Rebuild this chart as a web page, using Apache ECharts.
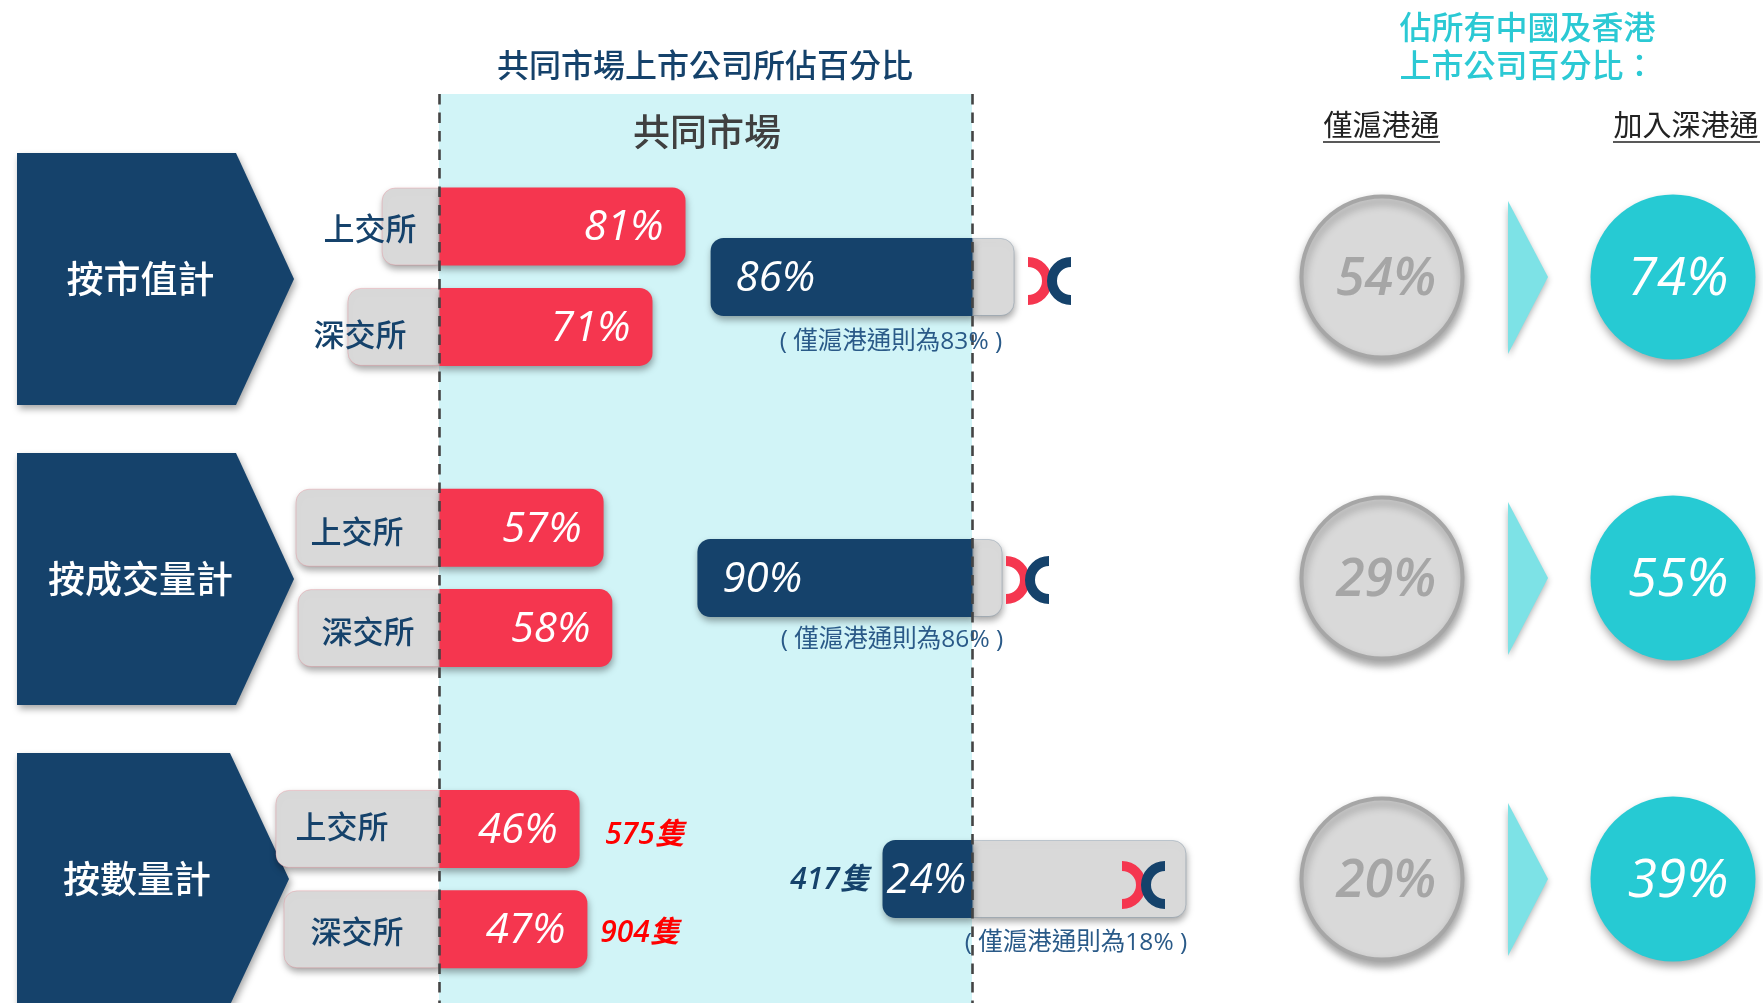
<!DOCTYPE html>
<html>
<head>
<meta charset="utf-8">
<style>html,body{margin:0;padding:0;background:#fff}#chart{width:1763px;height:1003px}</style>
<script src="https://cdn.jsdelivr.net/npm/echarts@6/dist/echarts.min.js"></script>
</head>
<body>
<div id="chart"></div>
<script>
// 左邊六行，null 是組與組之間的空位
var rowNames = ['上交所', '深交所', null, '上交所', '深交所', null, '上交所', '深交所'];
var commonLabels = ['81%', '71%', null, '57%', '58%', null, '46%', '47%'];
// 圖上量到的長度 (單位同百分比)
var commonLen = [82, 71, null, 54.7, 57.6, null, 46.7, 49.3];
var otherLen = [19.3, 30.7, null, 48, 47.3, null, 54.7, 52];

// 滬深港通
var groups = ['按市值計', '按成交量計', '按數量計'];
var hkLabels = ['86%', '90%', '24%'];
var hkCommonLen = [87.3, 91.7, 30];
var hkOtherLen = [14, 10, 71.3];
var onlyShNotes = ['( 僅滬港通則為83% )', '( 僅滬港通則為86% )', '( 僅滬港通則為18% )'];

// 右邊圓圈
var circleCols = ['僅滬港通', '加入深港通'];
var onlyShShare = [54, 29, 20];
var withSzShare = [74, 55, 39];

var NAVY = '#15426b', RED = '#f5364f', GREY = '#d9d9d9', TEAL = '#26cad3';
var FONT = "'Open Sans','Noto Sans CJK TC',sans-serif";
var CJK = "'Noto Sans CJK TC',sans-serif";

function text(x, y, str, size, color, extra) {
    return {
        type: 'text', x: x, y: y, z: 100, silent: true,
        style: Object.assign({
            text: str, fontSize: size, fill: color, fontFamily: CJK,
            align: 'center', verticalAlign: 'middle'
        }, extra || {})
    };
}

function chevron(pts) {
    return {
        type: 'polygon', z: 1, silent: true,
        shape: { points: pts },
        style: { fill: NAVY, shadowBlur: 7, shadowOffsetX: 2, shadowOffsetY: 4, shadowColor: 'rgba(0,0,0,0.35)' }
    };
}

function arrow(cy) {
    return {
        type: 'polygon', z: 1, silent: true,
        shape: { points: [[1508, cy - 76], [1548, cy], [1508, cy + 77]] },
        style: { fill: '#7de2e6', shadowBlur: 6, shadowOffsetY: 3, shadowColor: 'rgba(0,0,0,0.3)' }
    };
}

function logo(x, cy) {
    // 港交所標誌：兩個半圓環
    return [
        { type: 'sector', z: 100, silent: true, shape: { cx: x, cy: cy, r: 24, r0: 14, startAngle: -Math.PI / 2, endAngle: Math.PI / 2 }, style: { fill: RED } },
        { type: 'sector', z: 101, silent: true, shape: { cx: x + 43, cy: cy, r: 24, r0: 14, startAngle: Math.PI / 2, endAngle: Math.PI * 1.5 }, style: { fill: NAVY } }
    ];
}

function dashed(x) {
    return {
        type: 'line', z: 90, silent: true,
        shape: { x1: x, y1: 94, x2: x, y2: 1003 },
        style: { stroke: '#444', lineWidth: 2.6, lineDash: [10.5, 8] }
    };
}

var exchangeX = [370, 360, null, 357, 368, null, 342, 357];
var exchangeY = [228, 334, null, 531, 631, null, 826, 931];

var graphics = [
    { type: 'rect', z: 0, silent: true, shape: { x: 439, y: 94, width: 533, height: 909 }, style: { fill: '#d1f4f7' } },
    dashed(439.5), dashed(972.5),
    chevron([[17, 153], [236, 153], [294, 279], [236, 405], [17, 405]]),
    chevron([[17, 453], [236, 453], [294, 579], [236, 705], [17, 705]]),
    chevron([[17, 753], [230, 753], [289, 879], [230, 1005], [17, 1005]]),
    text(140.5, 279, groups[0], 37, '#fff', { fontWeight: 500 }),
    text(140.5, 579, groups[1], 37, '#fff', { fontWeight: 500 }),
    text(137, 879, groups[2], 37, '#fff', { fontWeight: 500 }),
    text(705, 65, '共同市場上市公司所佔百分比', 32, NAVY, { fontWeight: 500 }),
    text(707, 132, '共同市場', 37, '#404040', { fontWeight: 500 }),
    text(1527.5, 27, '佔所有中國及香港', 32, '#2bc9d4', { fontWeight: 500 }),
    text(1527.5, 65, '上市公司百分比：', 32, '#2bc9d4', { fontWeight: 500 }),
    text(1381.5, 125, circleCols[0], 29, '#222'),
    text(1686, 125, circleCols[1], 29, '#222'),
    { type: 'line', z: 100, silent: true, shape: { x1: 1323, y1: 142, x2: 1440, y2: 142 }, style: { stroke: '#222', lineWidth: 1.5 } },
    { type: 'line', z: 100, silent: true, shape: { x1: 1613, y1: 142, x2: 1760, y2: 142 }, style: { stroke: '#222', lineWidth: 1.5 } },
    arrow(277), arrow(578), arrow(879),
    text(891, 342, onlyShNotes[0], 24.5, '#2a5a88', { fontFamily: FONT }),
    text(892, 640, onlyShNotes[1], 24.5, '#2a5a88', { fontFamily: FONT }),
    text(1076, 943, onlyShNotes[2], 24.5, '#2a5a88', { fontFamily: FONT }),
    text(645, 835, '575隻', 30, '#ff0000', { fontFamily: FONT, fontStyle: 'italic', fontWeight: 600 }),
    text(640, 933, '904隻', 30, '#ff0000', { fontFamily: FONT, fontStyle: 'italic', fontWeight: 600 }),
    text(830, 880, '417隻', 30, NAVY, { fontFamily: FONT, fontStyle: 'italic', fontWeight: 600 })
].concat(logo(1028, 281), logo(1006, 580), logo(1122, 885));

rowNames.forEach(function (name, i) {
    if (name) graphics.push(text(exchangeX[i], exchangeY[i], name, 31, NAVY, { fontWeight: 500 }));
});

var barShadow = { shadowBlur: 7, shadowOffsetX: 1, shadowOffsetY: 4, shadowColor: 'rgba(0,0,0,0.35)' };

function pctLabel(pos, dist, list) {
    return {
        show: true, position: pos, distance: dist, offset: [0, 2],
        fontFamily: FONT, fontStyle: 'italic', fontSize: 42, color: '#fff',
        formatter: function (p) { return list[p.dataIndex]; }
    };
}

var hidden = { show: false };

var option = {
    animation: false,
    backgroundColor: '#fff',
    graphic: { elements: graphics },
    grid: [
        { left: 139.5, width: 600, top: 176.3, height: 803.2, outerBoundsMode: 'none' },
        { left: 672.5, width: 600, top: 126.5, height: 903, outerBoundsMode: 'none' },
        { left: 1236.5, width: 582, top: 126.5, height: 903, outerBoundsMode: 'none' }
    ],
    xAxis: [
        { type: 'value', gridIndex: 0, min: -100, max: 100, axisLine: hidden, axisTick: hidden, axisLabel: hidden, splitLine: hidden },
        { type: 'value', gridIndex: 1, min: -100, max: 100, axisLine: hidden, axisTick: hidden, axisLabel: hidden, splitLine: hidden },
        { type: 'category', gridIndex: 2, data: circleCols, axisLine: hidden, axisTick: hidden, axisLabel: hidden, splitLine: hidden }
    ],
    yAxis: [
        { type: 'category', gridIndex: 0, inverse: true, data: rowNames.map(function (n, i) { return n ? n + i : 'gap' + i; }), axisLine: hidden, axisTick: hidden, axisLabel: hidden },
        { type: 'category', gridIndex: 1, inverse: true, data: groups, axisLine: hidden, axisTick: hidden, axisLabel: hidden },
        { type: 'category', gridIndex: 2, inverse: true, data: groups, axisLine: hidden, axisTick: hidden, axisLabel: hidden }
    ],
    series: [
        {
            type: 'bar', xAxisIndex: 0, yAxisIndex: 0, stack: 'left', barWidth: 78,
            data: otherLen.map(function (v) { return v === null ? null : -v; }),
            itemStyle: Object.assign({ color: GREY, borderRadius: [13, 0, 0, 13], borderColor: 'rgba(245,54,79,0.18)', borderWidth: 1 }, barShadow)
        },
        {
            type: 'bar', xAxisIndex: 0, yAxisIndex: 0, stack: 'left', barWidth: 78,
            data: commonLen,
            itemStyle: Object.assign({ color: RED, borderRadius: [0, 13, 13, 0] }, barShadow),
            label: pctLabel('insideRight', 22, commonLabels)
        },
        {
            type: 'bar', xAxisIndex: 1, yAxisIndex: 1, stack: 'right', barWidth: 78,
            data: hkOtherLen,
            itemStyle: Object.assign({ color: GREY, borderRadius: [0, 13, 13, 0], borderColor: 'rgba(21,66,107,0.2)', borderWidth: 1 }, barShadow)
        },
        {
            type: 'bar', xAxisIndex: 1, yAxisIndex: 1, stack: 'right', barWidth: 78,
            data: hkCommonLen.map(function (v, i) {
                return {
                    value: -v,
                    label: { distance: i === 2 ? 4 : 25 }
                };
            }),
            itemStyle: Object.assign({ color: NAVY, borderRadius: [13, 0, 0, 13] }, barShadow),
            label: pctLabel('insideLeft', 25, hkLabels)
        },
        {
            type: 'scatter', xAxisIndex: 2, yAxisIndex: 2, symbolSize: 161,
            data: onlyShShare.map(function (v, i) { return [0, i, v]; }),
            itemStyle: { color: GREY, borderColor: '#a6a6a6', borderWidth: 4, opacity: 1, shadowBlur: 9, shadowOffsetX: 1, shadowOffsetY: 5, shadowColor: 'rgba(0,0,0,0.35)' },
            label: {
                show: true, position: 'inside', offset: [4, 3],
                fontFamily: FONT, fontStyle: 'italic', fontWeight: 600, fontSize: 52, color: '#a6a6a6',
                formatter: function (p) { return p.value[2] + '%'; }
            }
        },
        {
            type: 'scatter', xAxisIndex: 2, yAxisIndex: 2, symbolSize: 165,
            data: withSzShare.map(function (v, i) { return [1, i, v]; }),
            itemStyle: { color: TEAL, opacity: 1, shadowBlur: 9, shadowOffsetX: 1, shadowOffsetY: 5, shadowColor: 'rgba(0,0,0,0.35)' },
            label: {
                show: true, position: 'inside', offset: [5, 3],
                fontFamily: FONT, fontStyle: 'italic', fontSize: 53, color: '#fff',
                formatter: function (p) { return p.value[2] + '%'; }
            }
        }
    ]
};

var chart = echarts.init(document.getElementById('chart'));
chart.setOption(option);
</script>
</body>
</html>
